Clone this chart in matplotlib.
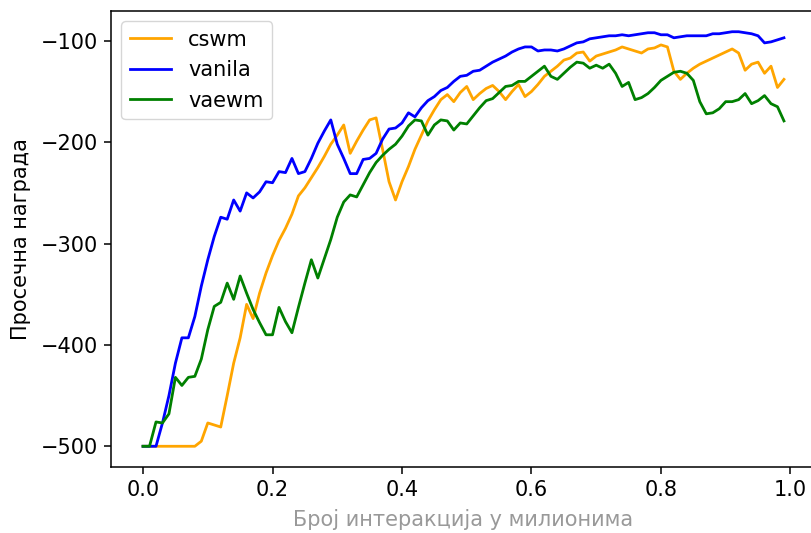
import numpy as np
import matplotlib
matplotlib.use("Agg")
import matplotlib.pyplot as plt

x = [i / 100 for i in range(100)]

cswm = [-500, -500, -500, -500, -500, -500, -500, -500, -500, -495,
        -477, -479, -481, -450, -418, -393, -360, -374, -349, -329,
        -312, -297, -285, -271, -253, -245, -235, -225, -214, -202,
        -193, -183, -211, -199, -188, -178, -176, -207, -239, -257,
        -239, -224, -207, -193, -179, -168, -158, -153, -160, -151,
        -145, -158, -152, -147, -144, -150, -158, -150, -143, -155,
        -150, -143, -135, -130, -125, -119, -117, -112, -111, -120,
        -115, -113, -111, -109, -106, -108, -110, -112, -108, -107,
        -104, -106, -130, -138, -132, -127, -123, -120, -117, -114,
        -111, -108, -112, -129, -123, -121, -132, -125, -146, -138]

vanila = [-500, -500, -500, -477, -450, -418, -393, -393, -372, -342,
          -316, -293, -274, -276, -257, -268, -250, -255, -249, -239,
          -240, -229, -230, -216, -231, -229, -216, -201, -189, -178,
          -202, -216, -231, -231, -217, -216, -211, -197, -187, -186,
          -181, -171, -175, -166, -159, -155, -149, -146, -140, -135,
          -134, -130, -129, -125, -121, -118, -115, -111, -108, -106,
          -106, -110, -109, -109, -110, -108, -105, -102, -101, -98,
          -97, -96, -95, -95, -94, -95, -94, -93, -92, -92,
          -94, -94, -97, -96, -95, -95, -95, -95, -93, -93,
          -92, -91, -91, -92, -93, -95, -102, -101, -99, -97]

vaewm = [-500, -500, -476, -477, -468, -432, -440, -432, -431, -414,
         -385, -362, -358, -339, -355, -332, -349, -365, -378, -390,
         -390, -363, -377, -388, -363, -339, -316, -334, -315, -296,
         -274, -259, -252, -254, -242, -230, -220, -213, -207, -202,
         -194, -184, -178, -179, -193, -183, -178, -179, -188, -181,
         -182, -174, -166, -159, -157, -151, -145, -144, -140, -140,
         -135, -130, -125, -135, -138, -132, -126, -121, -122, -127,
         -124, -127, -123, -132, -145, -141, -158, -156, -152, -146,
         -139, -135, -131, -130, -132, -139, -160, -172, -171, -167,
         -160, -160, -158, -152, -162, -159, -154, -162, -165, -179]

series_names = ["cswm", "vanila", "vaewm"]
colors = ["orange", "blue", "green"]

plt.rcParams['font.family'] = ['DejaVu Sans']
plt.rcParams['font.size'] = 15
plt.rcParams['axes.linewidth'] = 1.1
for ax_ in ('xtick', 'ytick'):
    plt.rcParams[f'{ax_}.major.size'] = 5
    plt.rcParams[f'{ax_}.major.width'] = 1.1
    plt.rcParams[f'{ax_}.major.pad'] = 4.5

fig = plt.figure(figsize=(8.11, 5.33), dpi=100)
W, H = 811, 533
left, right, top, bottom = 111, 816, 11, 467
ax = fig.add_axes([left / W, 1 - bottom / H, (right - left) / W, (bottom - top) / H])

for name, data, c in zip(series_names, [cswm, vanila, vaewm], colors):
    ax.plot(x, data, color=c, linewidth=2.0, label=name)

ax.set_xlabel("Број интеракција у милионима", color="#999999", labelpad=6)
ax.set_ylabel("Просечна награда", labelpad=7)
ax.set_xticks([0.0, 0.2, 0.4, 0.6, 0.8, 1.0])
ax.set_yticks([-100, -200, -300, -400, -500])
ax.legend(loc="upper left")

fig.savefig("out.png", dpi=100)
